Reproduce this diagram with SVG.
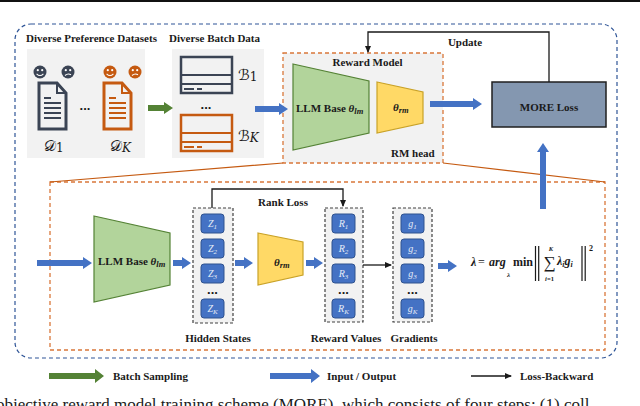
<svg xmlns="http://www.w3.org/2000/svg" width="640" height="406" viewBox="0 0 640 406">
<defs>
<style>
.lbl{font-family:"Liberation Serif","Times New Roman",serif;font-weight:bold;font-size:11px;fill:#1a1a1a}
.mi{font-family:"Liberation Serif","Times New Roman",serif;font-style:italic;font-weight:bold;fill:#1a1a1a}
.scr{font-family:"DejaVu Serif","DejaVu Sans",serif;font-size:15px;fill:#1a1a1a}
.panel{fill:#f2f2f2}
.dk{stroke:#3b4454;fill:none}
.or{stroke:#c55a11;fill:none}
.dkf{fill:#3b4454}
.orf{fill:#c55a11}
.box{fill:#4472c4;stroke:#2f528f;stroke-width:1}
.bt{font-family:"Liberation Serif","Times New Roman",serif;font-style:italic;font-size:10px;fill:#e6edf8;text-anchor:middle}
.col{fill:#f2f2f2;stroke:#404040;stroke-width:1.2;stroke-dasharray:3 2}
.blue{fill:#4472c4}
.green{fill:#548235}
.con{fill:none;stroke:#1a1a1a;stroke-width:1.3}
.gtrap{fill:#b2d49b;stroke:#548235;stroke-width:1.2}
.ytrap{fill:#ffd966;stroke:#c9a227;stroke-width:1.2}
.dots{font-family:"Liberation Sans",sans-serif;font-weight:bold;font-size:13px;fill:#1a1a1a;text-anchor:middle}
</style>
<marker id="ah" markerWidth="8" markerHeight="8" refX="6" refY="4" orient="auto" markerUnits="userSpaceOnUse">
<path d="M0,1 L7,4 L0,7 Z" fill="#1a1a1a"/>
</marker>
</defs>
<rect x="0" y="0" width="640" height="406" fill="#ffffff"/>
<rect x="0" y="0" width="640" height="2" fill="#111111"/>

<!-- outer frame -->
<rect id="outer-frame" x="15" y="24" width="602" height="334" rx="16" fill="none" stroke="#2f5597" stroke-width="1.2" stroke-dasharray="4 3"/>

<!-- datasets panel -->
<g id="datasets">
<text class="lbl" x="26" y="42">Diverse Preference Datasets</text>
<rect class="panel" x="27" y="49" width="118" height="109"/>
<circle class="dkf" cx="40" cy="72" r="6.5"/>
<circle cx="37.8" cy="70.2" r="1.1" fill="#fff"/><circle cx="42.2" cy="70.2" r="1.1" fill="#fff"/>
<path d="M36.6,73.8 Q40,77.2 43.4,73.8" stroke="#fff" stroke-width="1.1" fill="none"/>
<circle class="dkf" cx="68" cy="72" r="6.5"/>
<circle cx="65.8" cy="70.2" r="1.1" fill="#fff"/><circle cx="70.2" cy="70.2" r="1.1" fill="#fff"/>
<path d="M65,75.5 Q68,72.8 71,74.8" stroke="#fff" stroke-width="1.1" fill="none"/>
<circle class="orf" cx="110" cy="72" r="6.5"/>
<circle cx="107.8" cy="70.2" r="1.1" fill="#fff"/><circle cx="112.2" cy="70.2" r="1.1" fill="#fff"/>
<path d="M106.6,73.8 Q110,77.2 113.4,73.8" stroke="#fff" stroke-width="1.1" fill="none"/>
<circle class="orf" cx="135" cy="72" r="6.5"/>
<circle cx="132.8" cy="70.2" r="1.1" fill="#fff"/><circle cx="137.2" cy="70.2" r="1.1" fill="#fff"/>
<path d="M132,75.5 Q135,72.8 138,74.8" stroke="#fff" stroke-width="1.1" fill="none"/>
<path class="dk" d="M39,83 H57 L66,93 V129 H39 Z" fill="#fff" stroke-width="3"/>
<path class="dk" d="M57,83 V93 H66" stroke-width="2"/>
<g class="dk" stroke-width="2"><path d="M44,98 H51 M44,103 H61 M44,108 H61 M44,113 H61 M44,118 H61"/></g>
<path class="or" d="M104,83 H122 L131,93 V129 H104 Z" fill="#fff" stroke-width="3"/>
<path class="or" d="M122,83 V93 H131" stroke-width="2"/>
<g class="or" stroke-width="2"><path d="M109,98 H116 M109,103 H126 M109,108 H126 M109,113 H126 M109,118 H126"/></g>
<text class="dots" x="85" y="110">...</text>
<text class="scr" x="44" y="151">𝒟<tspan font-size="12" dy="1">1</tspan></text>
<text class="scr" x="110" y="151">𝒟<tspan font-size="12" font-style="italic" dy="1">K</tspan></text>
</g>

<!-- batch panel -->
<g id="batches">
<text class="lbl" x="169" y="42">Diverse Batch Data</text>
<rect class="panel" x="172" y="49" width="92" height="109"/>
<rect class="dk" x="181" y="57" width="51" height="36" stroke-width="2.5"/>
<path class="dk" d="M181,75 H232 M181,84 H232" stroke-width="1.8"/>
<path class="dk" d="M184,89 H194 M197,89 H202" stroke-width="2"/>
<rect class="or" x="181" y="115" width="51" height="36" stroke-width="2.5"/>
<path class="or" d="M181,133 H232 M181,142 H232" stroke-width="1.8"/>
<path class="or" d="M184,147 H194 M197,147 H202" stroke-width="2"/>
<text class="dots" x="206" y="109">...</text>
<text class="scr" x="238" y="80">ℬ<tspan font-size="12" dy="1">1</tspan></text>
<text class="scr" x="238" y="141">ℬ<tspan font-size="12" font-style="italic" dy="1">K</tspan></text>
</g>

<!-- reward model -->
<g id="reward-model">
<rect x="283" y="53" width="160" height="110" fill="#f2f2f2" stroke="#d9773a" stroke-width="1.3" stroke-dasharray="4 3"/>
<text class="lbl" x="367.5" y="66" text-anchor="middle">Reward Model</text>
<polygon class="gtrap" points="293,64 369,81 369,133 293,150"/>
<text class="lbl" x="296" y="112">LLM Base <tspan class="mi">θ</tspan><tspan class="mi" font-size="8.5" dy="2">lm</tspan></text>
<polygon class="ytrap" points="377,82 423,92 423,123 377,133"/>
<text class="mi" font-size="11" x="393" y="111">θ<tspan font-size="8.5" dy="2">rm</tspan></text>
<text class="lbl" x="391" y="157">RM head</text>
</g>

<!-- MORE loss -->
<g id="more-loss">
<rect x="492" y="82" width="114" height="45" fill="#8497b0" stroke="#1f1f1f" stroke-width="1.5"/>
<text class="lbl" font-size="12" x="549" y="111" text-anchor="middle">MORE Loss</text>
</g>

<!-- inner detail -->
<rect id="inner-frame" x="50" y="182" width="555" height="168" fill="none" stroke="#d9773a" stroke-width="1.3" stroke-dasharray="4 3"/>

<g id="llm-base">
<polygon class="gtrap" points="94,216 170,233 170,285 94,302"/>
<text class="lbl" x="98" y="265">LLM Base <tspan class="mi">θ</tspan><tspan class="mi" font-size="8.5" dy="2">lm</tspan></text>
</g>

<g id="hidden-states">
<rect class="col" x="193" y="208" width="40" height="115"/>
<rect class="box" x="201" y="214" width="23" height="19" rx="3"/>
<rect class="box" x="201" y="239" width="23" height="19" rx="3"/>
<rect class="box" x="201" y="264" width="23" height="19" rx="3"/>
<rect class="box" x="201" y="299" width="23" height="19" rx="3"/>
<text class="bt" x="212.5" y="227">Z<tspan font-size="7" dy="2">1</tspan></text>
<text class="bt" x="212.5" y="252">Z<tspan font-size="7" dy="2">2</tspan></text>
<text class="bt" x="212.5" y="277">Z<tspan font-size="7" dy="2">3</tspan></text>
<text class="bt" x="212.5" y="312">Z<tspan font-size="7" dy="2">K</tspan></text>
<text class="dots" x="212.5" y="294" font-size="11">...</text>
<text class="lbl" x="218" y="342" text-anchor="middle">Hidden States</text>
</g>

<g id="rm-head">
<polygon class="ytrap" points="258,233 303,242 303,275 258,285"/>
<text class="mi" font-size="11" x="274" y="266">θ<tspan font-size="8.5" dy="2">rm</tspan></text>
</g>

<g id="reward-values">
<rect class="col" x="325" y="208" width="38" height="114"/>
<rect class="box" x="332" y="214" width="23" height="19" rx="3"/>
<rect class="box" x="332" y="239" width="23" height="19" rx="3"/>
<rect class="box" x="332" y="264" width="23" height="19" rx="3"/>
<rect class="box" x="332" y="299" width="23" height="19" rx="3"/>
<text class="bt" x="343.5" y="227">R<tspan font-size="7" dy="2">1</tspan></text>
<text class="bt" x="343.5" y="252">R<tspan font-size="7" dy="2">2</tspan></text>
<text class="bt" x="343.5" y="277">R<tspan font-size="7" dy="2">3</tspan></text>
<text class="bt" x="343.5" y="312">R<tspan font-size="7" dy="2">K</tspan></text>
<text class="dots" x="343.5" y="294" font-size="11">...</text>
<text class="lbl" x="346" y="342" text-anchor="middle">Reward Values</text>
</g>

<g id="gradients">
<rect class="col" x="393" y="208" width="39" height="114"/>
<rect class="box" x="401" y="214" width="23" height="19" rx="3"/>
<rect class="box" x="401" y="239" width="23" height="19" rx="3"/>
<rect class="box" x="401" y="264" width="23" height="19" rx="3"/>
<rect class="box" x="401" y="299" width="23" height="19" rx="3"/>
<text class="bt" x="412.5" y="227">g<tspan font-size="7" dy="2">1</tspan></text>
<text class="bt" x="412.5" y="252">g<tspan font-size="7" dy="2">2</tspan></text>
<text class="bt" x="412.5" y="277">g<tspan font-size="7" dy="2">3</tspan></text>
<text class="bt" x="412.5" y="312">g<tspan font-size="7" dy="2">K</tspan></text>
<text class="dots" x="412.5" y="294" font-size="11">...</text>
<text class="lbl" x="414" y="342" text-anchor="middle">Gradients</text>
</g>

<g id="formula" font-family="'Liberation Serif','Times New Roman',serif" fill="#1a1a1a" font-size="12">
<text x="471" y="266" font-weight="bold" font-style="italic">λ</text>
<text x="478" y="266">=</text>
<text x="489" y="266" font-weight="bold" font-style="italic">arg</text>
<text x="507" y="277" font-size="7" font-weight="bold" font-style="italic">λ</text>
<text x="513" y="266" font-weight="bold">min</text>
<path d="M535.5,246 V281 M538.7,246 V281 M582,246 V281 M585.2,246 V281" stroke="#1a1a1a" stroke-width="1.2" fill="none"/>
<text x="549.5" y="267.5" font-size="17" text-anchor="middle">∑</text>
<text x="551" y="251" font-size="6.5" font-weight="bold" font-style="italic" text-anchor="middle">K</text>
<text x="549.5" y="281" font-size="6.5" font-weight="bold" text-anchor="middle"><tspan font-style="italic">i</tspan>=1</text>
<text x="557" y="265" font-weight="bold" font-style="italic">λ<tspan font-size="8" dy="1.5">i</tspan><tspan dy="-1.5">g</tspan><tspan font-size="8" dy="1.5">i</tspan></text>
<text x="589" y="251" font-size="8" font-weight="bold">2</text>
</g>

<!-- connectors -->
<g id="connectors">
<path d="M283,163 L50,182 M443,163 L605,182" stroke="#c55a11" stroke-width="1.2" fill="none"/>
<polygon class="green" points="148,105 164,105 164,102 173,108 164,114 164,111 148,111"/>
<polygon class="blue" points="255,106 279,106 279,103 288,109 279,115 279,112 255,112"/>
<polygon class="blue" points="430,101 473,101 473,98 482,104 473,110 473,107 430,107"/>
<polygon class="blue" points="540,209 540,152 537,152 543,143 549,152 546,152 546,209"/>
<polygon class="blue" points="37,260 83,260 83,257 92,263 83,269 83,266 37,266"/>
<polygon class="blue" points="173,260 182,260 182,257 191,263 182,269 182,266 173,266"/>
<polygon class="blue" points="235,260 244,260 244,257 253,263 244,269 244,266 235,266"/>
<polygon class="blue" points="306,260 314,260 314,257 323,263 314,269 314,266 306,266"/>
<polygon class="blue" points="438,263 448,263 448,260 457,266 448,272 448,269 438,269"/>
<polyline class="con" points="549,82 549,32 368,32 368,52" marker-end="url(#ah)"/>
<text class="lbl" x="465" y="46" text-anchor="middle">Update</text>
<polyline class="con" points="212,208 212,189 343,189 343,206" marker-end="url(#ah)"/>
<text class="lbl" x="283" y="206" text-anchor="middle">Rank Loss</text>
<line class="con" x1="363" y1="265" x2="391" y2="265" marker-end="url(#ah)"/>
</g>

<!-- legend -->
<g id="legend">
<polygon class="green" points="49,373 95,373 95,369 104,376 95,383 95,379 49,379"/>
<text class="lbl" x="113" y="380">Batch Sampling</text>
<polygon class="blue" points="270,373 311,373 311,369 320,376 311,383 311,379 270,379"/>
<text class="lbl" x="327" y="380">Input / Output</text>
<line class="con" x1="471" y1="376" x2="511" y2="376" marker-end="url(#ah)"/>
<text class="lbl" x="520" y="380">Loss-Backward</text>
</g>

<text x="-4" y="410" font-family="'Liberation Serif','Times New Roman',serif" font-size="17" fill="#1a1a1a">objective reward model training scheme (MORE), which consists of four steps: (1) coll</text>
</svg>
